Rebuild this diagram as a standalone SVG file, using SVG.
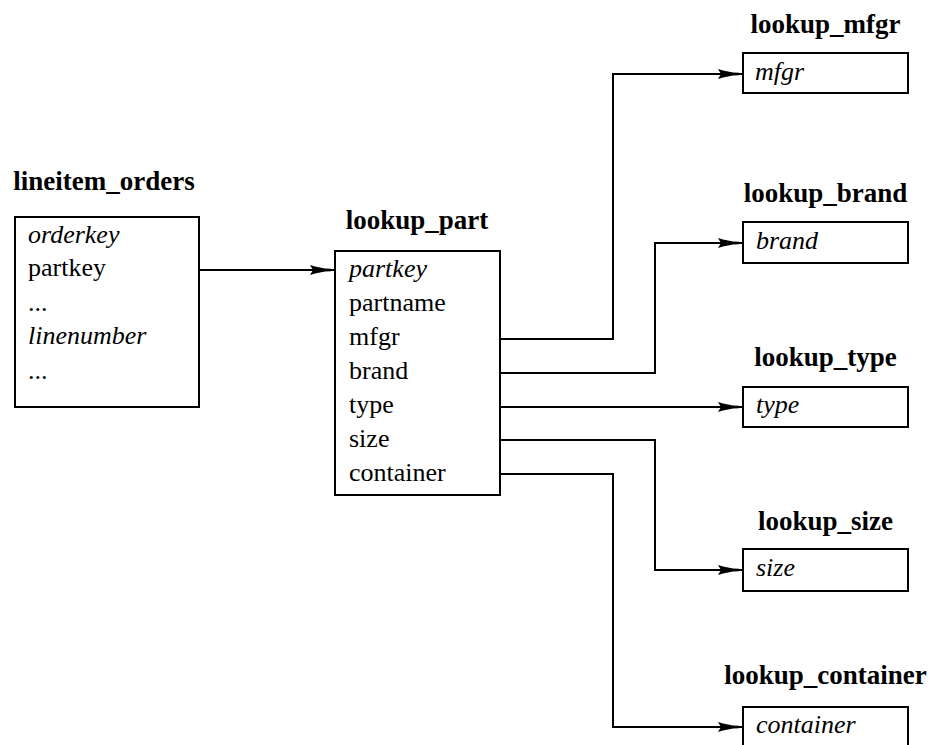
<svg xmlns="http://www.w3.org/2000/svg" width="931" height="745" viewBox="0 0 931 745">
  <style>
    .box { fill: #fff; stroke: #000; stroke-width: 2; }
    .title { font-family: "Liberation Serif", "Times New Roman", serif; font-size: 27px; font-weight: bold; fill: #000; text-anchor: middle; }
    .attr { font-family: "Liberation Serif", "Times New Roman", serif; font-size: 26px; fill: #000; }
    .key { font-style: italic; }
    .link { fill: none; stroke: #000; stroke-width: 2; marker-end: url(#dart); }
  </style>
  <defs>
    <marker id="dart" markerUnits="userSpaceOnUse" markerWidth="30" markerHeight="14" viewBox="-28 -7 30 14" refX="0" refY="0" orient="auto" overflow="visible">
      <path d="M-25,-5 L-20,-3.5 L-10,-1.6 L-4,-1.2 L-4,1.2 L-10,1.6 L-20,3.5 L-25,5 L-22,0 Z" fill="#000"/>
    </marker>
  </defs>

  <!-- connectors -->
  <g id="connectors">
    <path class="link" d="M199,270 H335"/>
    <path class="link" d="M500,339 H613 V74 H743"/>
    <path class="link" d="M500,373 H655 V243 H743"/>
    <path class="link" d="M500,407 H743"/>
    <path class="link" d="M500,440 H655 V570 H743"/>
    <path class="link" d="M500,474 H613 V727 H743"/>
  </g>

  <g id="lineitem_orders">
    <text class="title" x="104" y="190">lineitem_orders</text>
    <rect class="box" x="15" y="217" width="184" height="190"/>
    <text class="attr key" x="28" y="243">orderkey</text>
    <text class="attr" x="28" y="276">partkey</text>
    <text class="attr" x="28" y="311">...</text>
    <text class="attr key" x="28" y="344">linenumber</text>
    <text class="attr" x="28" y="379">...</text>
  </g>

  <g id="lookup_part">
    <text class="title" x="417" y="229">lookup_part</text>
    <rect class="box" x="335" y="251" width="165" height="244"/>
    <text class="attr key" x="349" y="277">partkey</text>
    <text class="attr" x="349" y="311">partname</text>
    <text class="attr" x="349" y="345">mfgr</text>
    <text class="attr" x="349" y="379">brand</text>
    <text class="attr" x="349" y="413">type</text>
    <text class="attr" x="349" y="447">size</text>
    <text class="attr" x="349" y="481">container</text>
  </g>

  <g id="lookup_mfgr">
    <text class="title" x="825.5" y="33">lookup_mfgr</text>
    <rect class="box" x="743" y="53" width="165" height="40"/>
    <text class="attr key" x="755" y="80">mfgr</text>
  </g>

  <g id="lookup_brand">
    <text class="title" x="825.5" y="202">lookup_brand</text>
    <rect class="box" x="743" y="222" width="165" height="41"/>
    <text class="attr key" x="756" y="249">brand</text>
  </g>

  <g id="lookup_type">
    <text class="title" x="825.5" y="366">lookup_type</text>
    <rect class="box" x="743" y="387" width="165" height="40"/>
    <text class="attr key" x="756" y="413">type</text>
  </g>

  <g id="lookup_size">
    <text class="title" x="825.5" y="530">lookup_size</text>
    <rect class="box" x="743" y="549" width="165" height="42"/>
    <text class="attr key" x="756" y="576">size</text>
  </g>

  <g id="lookup_container">
    <text class="title" x="825.5" y="684">lookup_container</text>
    <rect class="box" x="743" y="707" width="165" height="45"/>
    <text class="attr key" x="756" y="733">container</text>
  </g>
</svg>
